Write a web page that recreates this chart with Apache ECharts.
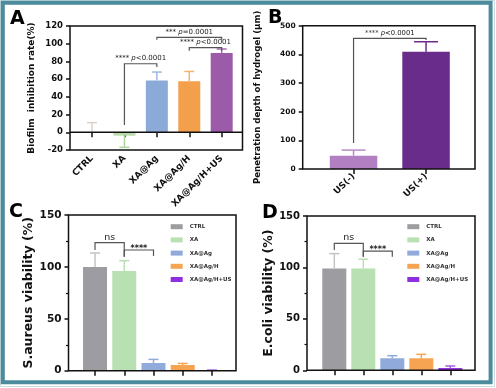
<!DOCTYPE html>
<html>
<head>
<meta charset="utf-8">
<script src="https://cdn.jsdelivr.net/npm/echarts@6/dist/echarts.min.js"></script>
<style>
html, body { margin: 0; padding: 0; background: #fff; }
#chart { width: 496px; height: 388px; }
</style>
</head>
<body>
<div id="chart"></div>
<script>
// groups and values
var groups = ['CTRL', 'XA', 'XA@Ag', 'XA@Ag/H', 'XA@Ag/H+US'];
var biofilm = [0, -3.8, 58.4, 57.7, 89.5];
var biofilmSd = [10.9, 13.2, 9.6, 11, 4.5];

var usGroups = ['US(-)', 'US(+)'];
var depth = [46.4, 409];
var depthSd = [19.6, 35];

var sAureus = [100, 96, 7.4, 5.5, 0.3];
var sAureusSd = [13.4, 10, 3.5, 1.5, 0.3];

var eColi = [99, 99, 11.7, 11.7, 2.2];
var eColiSd = [14.4, 9, 2.5, 3.8, 2];

// y ticks [min, max, step]
var ticksA = [-20, 120, 20];
var ticksB = [0, 500, 100];
var ticksCD = [0, 150, 50];

// brackets: [from, to, line y, left leg end, right leg end] + label
var sigA = [[1, 2, 77.4, 8.3, 73.6], [2, 4, 107.1, 104.5, 104.5], [3, 4, 95.5, 92, 92]];
var sigALabel = [['****', '<0.0001'], ['***', '=0.0001'], ['****', '<0.0001']];
var sigB = [[0, 1, 455.9, 90.7, 450]];
var sigBLabel = [['****', '<0.0001']];
var sigC = [[0, 1, 123.3, 116.3, 109.8], [1, 2, 116.3, 109.8, 110.5]];
var sigD = [[0, 1, 123.4, 116.9, 110.4], [1, 2, 115.9, 110.4, 110.4]];
var sigCDLabel = [['ns'], ['****']];

var colA = ['#c9c9c9', '#b7dcaa', '#8caad8', '#f39f4c', '#9b5ba9'];
var errA = ['#d9d2c2', '#a9d69d', '#9fb8e0', '#f5b36e', '#a96cb6'];
var colB = ['#b27fc2', '#6a2c8b'];
var errB = ['#b88cc6', '#6a2c8b'];
var colCD = ['#9d9da1', '#b9e0b3', '#8faadb', '#f6a452', '#8e2fe0'];
var errCD = ['#c4c4c6', '#b9e0b3', '#8faadb', '#f6a452', '#a45ee6'];

var FONT = 'DejaVu Sans';
var chartDom = document.getElementById('chart');
var myChart = echarts.init(chartDom);

function errSeries(axis, vals, sds, colors, cap) {
    var data = [];
    for (var i = 0; i < vals.length; i++) {
        var end = vals[i] < 0 ? vals[i] - sds[i] : vals[i] + sds[i];
        data.push([i, vals[i], end]);
    }
    return {
        type: 'custom', xAxisIndex: axis, yAxisIndex: axis, z: 3,
        data: data,
        renderItem: function (params, api) {
            var p0 = api.coord([api.value(0), api.value(1)]);
            var p1 = api.coord([api.value(0), api.value(2)]);
            var st = { stroke: colors[params.dataIndex], lineWidth: 1.5 };
            return {
                type: 'group', children: [
                    { type: 'line', shape: { x1: p0[0], y1: p0[1], x2: p1[0], y2: p1[1] }, style: st },
                    { type: 'line', shape: { x1: p1[0] - cap / 2, y1: p1[1], x2: p1[0] + cap / 2, y2: p1[1] }, style: st }
                ]
            };
        }
    };
}

function sigSeries(axis, brackets, labels, fontSize) {
    return {
        type: 'custom', xAxisIndex: axis, yAxisIndex: axis, z: 4,
        data: brackets,
        renderItem: function (params, api) {
            var a = api.coord([api.value(0), api.value(3)]);
            var b = api.coord([api.value(0), api.value(2)]);
            var c = api.coord([api.value(1), api.value(2)]);
            var d = api.coord([api.value(1), api.value(4)]);
            var lab = labels[params.dataIndex];
            var txt, dy;
            if (lab.length > 1) {
                txt = '{s|' + lab[0] + ' }{i|p}{s|' + lab[1] + '}';
                dy = -2;
            } else if (lab[0] === 'ns') {
                txt = '{n|ns}';
                dy = -0.5;
            } else {
                txt = '{b|' + lab[0] + '}';
                dy = 2.5;
            }
            return {
                type: 'group', children: [
                    { type: 'polyline', shape: { points: [a, b, c, d] }, style: { stroke: '#555', lineWidth: 1.2, fill: null } },
                    {
                        type: 'text', x: (b[0] + c[0]) / 2, y: b[1] + dy,
                        style: {
                            text: txt, align: 'center', verticalAlign: 'bottom',
                            rich: {
                                s: { fontSize: fontSize, fontFamily: FONT, fill: '#222' },
                                i: { fontSize: fontSize, fontFamily: FONT, fontStyle: 'italic', fill: '#222' },
                                n: { fontSize: 9.5, fontFamily: FONT, fill: '#222' },
                                b: { fontSize: 8, fontFamily: FONT, fontWeight: 'bold', fill: '#222' }
                            }
                        }
                    }
                ]
            };
        }
    };
}

function yAxisCfg(grid, ticks, offset, labelSize, name, nameSize, nameGap, nameWeight, minor) {
    return {
        type: 'value', gridIndex: grid, min: ticks[0], max: ticks[1], interval: ticks[2], offset: offset,
        axisLine: { show: false },
        axisTick: { show: true, length: 4, lineStyle: { color: '#111', width: 1.5 } },
        minorTick: { show: !!minor, splitNumber: 2, length: 2.5, lineStyle: { color: '#111', width: 1.2 } },
        axisLabel: { fontSize: labelSize, fontWeight: 'bold', color: '#111', margin: 7, fontFamily: FONT },
        splitLine: { show: false },
        name: name, nameLocation: 'middle', nameGap: nameGap,
        nameTextStyle: { fontSize: nameSize, fontWeight: nameWeight, color: '#111', fontFamily: FONT }
    };
}

function xAxisCfg(grid, cats, labels, labelSize, margin) {
    return {
        type: 'category', gridIndex: grid, data: cats,
        axisLine: { show: false },
        axisTick: { show: true, alignWithLabel: true, interval: 0, length: 5, lineStyle: { color: '#111', width: 1.5 } },
        axisLabel: { show: labels, interval: 0, rotate: 45, fontSize: labelSize, fontWeight: 'bold', color: '#111', margin: margin, fontFamily: FONT }
    };
}

function oneEach(vals, i) {
    return vals.map(function (v, j) { return j === i ? v : '-'; });
}

var seriesList = [];

// A
seriesList.push({
    type: 'bar', name: 'biofilm', xAxisIndex: 0, yAxisIndex: 0, barWidth: 22,
    data: biofilm.map(function (v, i) { return { value: v, itemStyle: { color: colA[i] } }; })
});
seriesList.push(errSeries(0, biofilm, biofilmSd, errA, 10));
seriesList.push(sigSeries(0, sigA, sigALabel, 7));

// B
seriesList.push({
    type: 'bar', name: 'depth', xAxisIndex: 1, yAxisIndex: 1, barWidth: 47.5,
    data: depth.map(function (v, i) { return { value: v, itemStyle: { color: colB[i] } }; })
});
seriesList.push(errSeries(1, depth, depthSd, errB, 24));
seriesList.push(sigSeries(1, sigB, sigBLabel, 6.8));

// C and D
for (var i = 0; i < groups.length; i++) {
    seriesList.push({
        type: 'bar', name: groups[i], xAxisIndex: 2, yAxisIndex: 2, barWidth: 24, barGap: '-100%',
        itemStyle: { color: colCD[i] }, data: oneEach(sAureus, i)
    });
    seriesList.push({
        type: 'bar', name: groups[i], xAxisIndex: 3, yAxisIndex: 3, barWidth: 24, barGap: '-100%',
        itemStyle: { color: colCD[i] }, data: oneEach(eColi, i)
    });
}
seriesList.push(errSeries(2, sAureus, sAureusSd, errCD, 10));
seriesList.push(errSeries(3, eColi, eColiSd, errCD, 10));
seriesList.push(sigSeries(2, sigC, sigCDLabel, 8));
seriesList.push(sigSeries(3, sigD, sigCDLabel, 8));

function legendCfg(left, top) {
    return {
        orient: 'vertical', left: left, top: top, padding: 0,
        itemWidth: 12, itemHeight: 5, itemGap: 7.2, icon: 'rect', selectedMode: false,
        data: groups,
        textStyle: { fontSize: 5.5, fontWeight: 'bold', color: '#333', lineHeight: 6, fontFamily: FONT, padding: [0, 0, 0, 2] }
    };
}

function frame(x1, y1, x2, y2) {
    return { type: 'rect', shape: { x: x1, y: y1, width: x2 - x1, height: y2 - y1 }, style: { fill: null, stroke: '#111', lineWidth: 1.5 }, z: 10 };
}
function letter(t, x, y) {
    return { type: 'text', x: x, y: y, style: { text: t, fontSize: 19, fontWeight: 'bold', fontFamily: FONT, fill: '#000' }, z: 10 };
}

var option = {
    animation: false,
    textStyle: { fontFamily: FONT },
    grid: [
        { left: 75.8, right: 258.1, top: 26, bottom: 238 },
        { left: 317.3, right: 33.7, top: 25.7, bottom: 219 },
        { left: 80.4, right: 269.4, top: 215, bottom: 17.3 },
        { left: 319.8, right: 31.2, top: 216, bottom: 17.7 }
    ],
    xAxis: [
        xAxisCfg(0, groups, true, 9, 7),
        xAxisCfg(1, usGroups, true, 9, 6),
        xAxisCfg(2, groups, false, 9, 6),
        xAxisCfg(3, groups, false, 9, 6)
    ],
    yAxis: [
        yAxisCfg(0, ticksA, 5.8, 8.5, 'Biofilm  inhibition rate(%)', 9, 33.5, 'bold', false),
        yAxisCfg(1, ticksB, 14.6, 7.5, 'Penetration depth of hydrogel (μm)', 8.6, 40, 'bold', false),
        yAxisCfg(2, ticksCD, 11.9, 10.5, 'S.aureus viability (%)', 12.5, 30, 'bold', true),
        yAxisCfg(3, ticksCD, 12.8, 10, 'E.coli viability (%)', 12.5, 29, 'bold', true)
    ],
    legend: [legendCfg(170.7, 223.7), legendCfg(407.3, 223.7)],
    series: seriesList,
    graphic: [
        { type: 'rect', shape: { x: 0.5, y: 0.5, width: 494, height: 386 }, style: { fill: null, stroke: '#c9dbe0', lineWidth: 1 }, z: 9 },
        { type: 'rect', shape: { x: 2.8, y: 2.8, width: 487.8, height: 379.5 }, style: { fill: null, stroke: '#4c8b9c', lineWidth: 4 }, z: 10 },
        frame(70, 26, 242.5, 150),
        frame(302.7, 25.7, 475, 169),
        frame(68.5, 215, 236, 370.7),
        frame(307, 216, 475, 370.3),
        letter('A', 10, 10),
        letter('B', 268, 9),
        letter('C', 9, 203),
        letter('D', 262, 204)
    ]
};

option && myChart.setOption(option);

// zero line of panel A goes across the whole frame
var y0 = myChart.convertToPixel({ yAxisIndex: 0 }, 0);
var g = option.graphic.slice();
g.push({ type: 'line', shape: { x1: 70, y1: y0, x2: 242.5, y2: y0 }, style: { stroke: '#111', lineWidth: 1.5 }, z: 10 });
myChart.setOption({ graphic: g });
</script>
</body>
</html>
